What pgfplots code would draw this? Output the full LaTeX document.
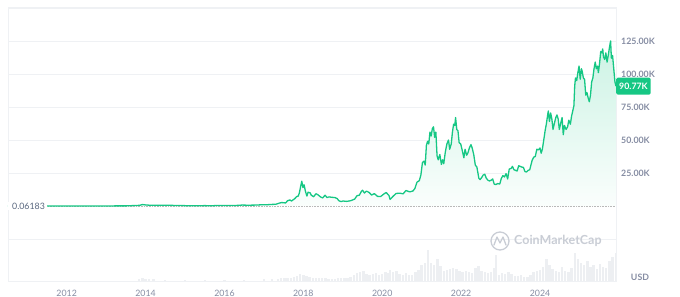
\documentclass[border=0pt]{standalone}
\usepackage{pgfplots}
\usepackage{pgfplotstable}
\pgfplotsset{compat=1.18}
\usepackage{fontspec}
\setmainfont{Lato}
\definecolor{cmcgreen}{HTML}{16C784}
\definecolor{gridc}{HTML}{EFF1F4}
\definecolor{tickc}{HTML}{858CA2}
\definecolor{darkc}{HTML}{58667E}
\definecolor{volc}{HTML}{EDEFF2}
\definecolor{wmc}{HTML}{C9CDD5}

\pgfplotstableread{
year price
2010.51 0.00006
2011.0 0.0003
2011.45 0.02
2011.9 0.003
2012.5 0.007
2013.0 0.013
2013.3 0.1
2013.5 0.09
2013.85 0.5
2013.92 1.1
2014.0 0.8
2014.1 0.6
2014.2 0.55
2014.35 0.45
2014.45 0.62
2014.6 0.58
2014.75 0.38
2014.9 0.35
2015.05 0.22
2015.3 0.23
2015.5 0.27
2015.7 0.23
2015.85 0.4
2016.0 0.43
2016.3 0.42
2016.45 0.7
2016.6 0.6
2016.8 0.7
2016.95 0.95
2017.1 1.0
2017.2 1.2
2017.3 1.3
2017.38 2.1
2017.45 2.6
2017.5 2.5
2017.55 2.3
2017.6 4.0
2017.66 4.6
2017.7 3.8
2017.78 5.5
2017.83 7.1
2017.87 7.5
2017.9 10.0
2017.93 14.5
2017.96 18.8
2017.99 14.0
2018.02 16.0
2018.05 11.5
2018.09 7.5
2018.12 10.5
2018.17 10.0
2018.2 8.2
2018.26 7.0
2018.32 9.3
2018.37 8.5
2018.44 6.8
2018.49 6.1
2018.55 8.2
2018.6 6.4
2018.65 6.9
2018.72 6.6
2018.8 6.4
2018.86 5.6
2018.9 4.0
2018.96 3.3
2019.0 3.8
2019.1 3.5
2019.2 4.0
2019.3 5.2
2019.36 7.8
2019.42 8.2
2019.47 11.0
2019.5 12.0
2019.55 9.8
2019.6 11.3
2019.67 10.2
2019.73 8.3
2019.8 9.4
2019.88 7.3
2019.96 7.2
2020.05 9.3
2020.1 10.2
2020.17 8.0
2020.2 5.0
2020.27 7.2
2020.35 9.5
2020.45 9.7
2020.53 9.2
2020.6 11.7
2020.7 10.7
2020.78 11.4
2020.83 13.4
2020.88 18.0
2020.94 19.2
2020.98 23.5
2021.02 33.0
2021.06 34.0
2021.09 31.0
2021.12 46.0
2021.15 49.0
2021.18 47.0
2021.21 56.0
2021.24 53.0
2021.27 58.5
2021.3 60.0
2021.33 52.0
2021.36 56.0
2021.39 38.0
2021.42 35.0
2021.46 39.0
2021.5 31.5
2021.53 35.0
2021.56 32.0
2021.6 41.0
2021.64 47.0
2021.68 50.0
2021.71 43.0
2021.75 47.0
2021.78 56.0
2021.81 62.0
2021.84 61.0
2021.86 67.0
2021.89 58.0
2021.92 57.0
2021.95 48.0
2021.99 47.0
2022.03 42.0
2022.07 36.5
2022.1 43.0
2022.14 38.5
2022.17 40.0
2022.21 44.0
2022.25 46.5
2022.28 44.0
2022.32 39.0
2022.36 31.0
2022.4 29.5
2022.45 21.0
2022.48 20.0
2022.52 21.5
2022.56 23.5
2022.6 24.0
2022.64 21.0
2022.68 19.5
2022.72 19.0
2022.76 19.5
2022.8 20.5
2022.84 16.5
2022.88 16.3
2022.93 17.0
2022.98 16.6
2023.02 21.0
2023.06 23.0
2023.1 22.0
2023.14 24.5
2023.18 20.5
2023.22 28.0
2023.27 28.5
2023.3 30.0
2023.34 27.5
2023.38 27.0
2023.42 26.5
2023.46 30.5
2023.5 30.0
2023.54 29.5
2023.58 29.2
2023.62 26.0
2023.66 25.8
2023.7 27.0
2023.74 27.5
2023.8 34.5
2023.84 37.0
2023.88 37.5
2023.92 43.0
2023.96 42.5
2024.0 44.0
2024.03 40.0
2024.06 43.0
2024.1 51.0
2024.13 57.0
2024.16 62.0
2024.19 68.0
2024.21 72.0
2024.24 64.0
2024.27 70.5
2024.3 66.0
2024.33 58.0
2024.36 62.0
2024.4 67.0
2024.43 69.0
2024.46 66.0
2024.49 58.0
2024.52 62.0
2024.56 67.0
2024.59 54.0
2024.62 61.0
2024.66 58.0
2024.7 60.0
2024.73 65.0
2024.77 62.0
2024.8 68.0
2024.83 72.0
2024.86 76.0
2024.88 91.0
2024.9 97.0
2024.93 95.0
2024.96 101.0
2024.99 106.0
2025.02 96.0
2025.05 104.0
2025.07 102.0
2025.1 97.0
2025.13 96.0
2025.16 84.0
2025.19 86.0
2025.22 82.0
2025.25 79.0
2025.28 84.0
2025.31 94.0
2025.34 97.0
2025.37 104.0
2025.4 109.0
2025.43 104.0
2025.46 106.0
2025.48 101.0
2025.51 108.0
2025.54 117.0
2025.57 116.0
2025.59 119.0
2025.61 113.0
2025.64 111.0
2025.67 116.0
2025.7 109.0
2025.73 114.0
2025.76 120.0
2025.79 125.0
2025.81 112.0
2025.84 114.0
2025.87 104.0
2025.9 94.0
2025.927 90.77
}\price

\pgfplotstableread{
year vol
2013.84 2
2013.92 3
2014.0 2
2014.08 2
2014.2 1.5
2014.5 1
2015.0 1
2015.5 1
2016.0 1
2016.5 1
2017.0 1.5
2017.2 1.5
2017.36 2
2017.44 2.5
2017.52 2.5
2017.6 3
2017.68 3
2017.76 3.5
2017.84 5
2017.92 7
2018.0 6
2018.08 5
2018.16 4
2018.24 3
2018.32 3
2018.4 2.5
2018.48 2.5
2018.56 2.5
2018.64 2
2018.72 2
2018.8 2
2018.88 3
2018.96 2.5
2019.04 3
2019.12 3
2019.2 4
2019.28 6
2019.36 8
2019.44 9
2019.52 10
2019.6 7
2019.68 6
2019.76 7
2019.84 8
2019.92 6
2020.0 7
2020.08 9
2020.16 8
2020.2 11
2020.28 9
2020.36 10
2020.44 7
2020.52 6
2020.6 8
2020.68 6
2020.76 6
2020.84 9
2020.92 11
2021.0 16
2021.08 18
2021.16 31
2021.24 18
2021.32 16
2021.4 22
2021.48 15
2021.56 10
2021.64 11
2021.72 12
2021.8 13
2021.88 12
2021.96 10
2022.04 9
2022.12 10
2022.2 9
2022.28 8
2022.36 13
2022.44 15
2022.52 10
2022.6 9
2022.68 8
2022.76 9
2022.84 13
2022.88 26
2022.96 6
2023.04 8
2023.12 7
2023.2 9
2023.28 7
2023.36 5
2023.44 5
2023.52 6
2023.6 4
2023.68 4
2023.76 6
2023.84 9
2023.92 10
2024.0 11
2024.08 14
2024.16 22
2024.24 16
2024.32 12
2024.4 10
2024.48 9
2024.56 14
2024.64 10
2024.72 9
2024.8 13
2024.88 28
2024.96 22
2025.04 18
2025.12 16
2025.2 20
2025.28 14
2025.36 16
2025.44 12
2025.52 17
2025.6 14
2025.68 13
2025.76 20
2025.84 24
2025.92 28
}\volume

\begin{document}
\begin{tikzpicture}
\useasboundingbox (0pt,0pt) rectangle (680pt,297pt);
% volume pane
\begin{axis}[at={(8pt,16pt)}, anchor=south west, scale only axis,
  width=608pt, height=274pt,
  xmin=2010.512, xmax=2025.927, ymin=0, ymax=274,
  axis lines=none, clip=true]
\addplot[ycomb, volc, line width=2.4pt, mark=none] table[x=year,y=vol] {\volume};
\end{axis}
% price pane
\begin{axis}[at={(8pt,16pt)}, anchor=south west, scale only axis,
  width=608pt, height=274pt,
  xmin=2010.512, xmax=2025.927, ymin=-56.82, ymax=150.76,
  axis line style={gridc, line width=0.8pt},
  xtick={2012,2014,2016,2018,2020,2022,2024},
  xticklabels={2012,2014,2016,2018,2020,2022,2024},
  xticklabel style={font=\fontsize{8.8}{10}\selectfont, text=tickc, anchor=north, inner sep=0pt, yshift=-8.5pt},
  ytick={25,50,75,100,125},
  yticklabels={25.00K,50.00K,75.00K,100.00K,125.00K},
  yticklabel pos=right,
  yticklabel style={font=\fontsize{8.8}{10}\selectfont\bfseries, text=tickc, anchor=west, inner sep=0pt, xshift=5pt},
  extra y ticks={-25,150},
  extra y tick labels={},
  major tick length=0pt,
  ymajorgrids=true, grid style={gridc, line width=0.8pt},
  clip=false]
% gradient area
\addplot[draw=none, top color=cmcgreen!22, bottom color=cmcgreen!2] table[x=year,y=price] {\price} \closedcycle;
% baseline dotted
\addplot[densely dotted, gray!55, line width=0.6pt] coordinates {(2010.512,0.06) (2025.927,0.06)};
% price line
\addplot[cmcgreen, line width=1.3pt, line join=round] table[x=year,y=price] {\price};
% start label
\node[anchor=west, fill=white, inner xsep=2pt, inner ysep=1pt, text=darkc, font=\fontsize{8.8}{10}\selectfont] at (axis cs:2010.512,0) {\hspace{2pt}0.06183};
% current price label
\node[anchor=west, fill=cmcgreen, rounded corners=1.5pt, text=white, font=\fontsize{8.8}{10}\selectfont\bfseries, inner xsep=3pt, minimum height=17pt] at (axis cs:2025.927,90.77) {90.77K};
\end{axis}
% watermark
\draw[wmc, line width=1.3pt] (500pt,56pt) circle (9pt);
\draw[wmc, line width=1.3pt, line join=round, line cap=round] (494pt,52pt) -- (497pt,60pt) -- (500pt,54pt) -- (503pt,60pt) -- (506pt,52pt);
\node[anchor=west, text=wmc, font=\fontsize{12.5}{14}\selectfont\bfseries, inner sep=0pt] at (514pt,56pt) {CoinMarketCap};
% USD
\node[text=tickc, font=\fontsize{8.8}{10}\selectfont\bfseries] at (640pt,20pt) {USD};
\end{tikzpicture}
\end{document}
